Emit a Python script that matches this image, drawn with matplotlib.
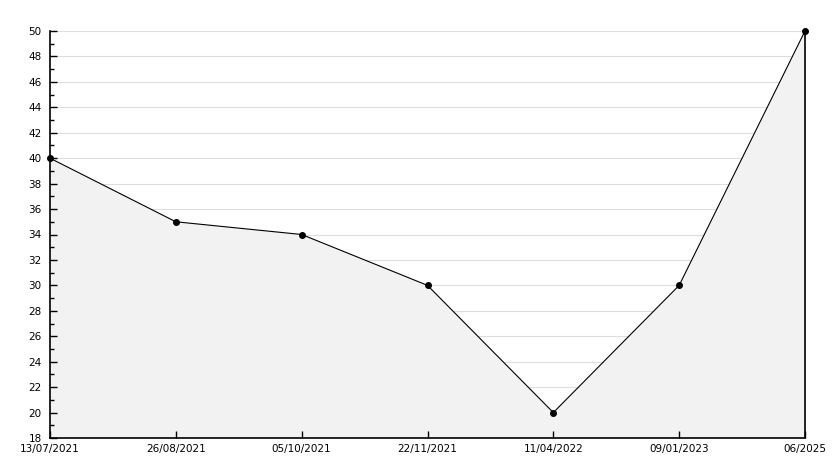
import numpy as np
import matplotlib.pyplot as plt

labels = ["13/07/2021", "26/08/2021", "05/10/2021", "22/11/2021",
          "11/04/2022", "09/01/2023", "06/2025"]
values = [40, 35, 34, 30, 20, 30, 50]

fig = plt.figure(figsize=(8.34, 4.68), dpi=100)
ax = fig.add_axes([50 / 834, 30 / 468, 755 / 834, 407 / 468])

x = np.arange(len(values))
ymin, ymax = 18, 50
yticks = np.arange(ymin, ymax + 1, 2)

# grid drawn under the fill, ticks stay on top
ax.hlines(yticks[1:], x[0], x[-1], color="#dddddd", lw=0.8, zorder=1)
ax.fill_between(x, values, ymin, color="#f2f2f2", zorder=2, linewidth=0)
ax.plot(x, values, color="black", lw=0.8, zorder=3)
ax.plot(x, values, ls="none", marker="o", ms=4, color="black", zorder=6,
        clip_on=False)
# right edge of the filled area
ax.vlines(x[-1], ymin, values[-1], color="black", lw=1.2, zorder=3,
          clip_on=False)

ax.set_xlim(x[0], x[-1])
ax.set_ylim(ymin, ymax)
ax.set_xticks(x)
ax.set_xticklabels(labels)
ax.set_yticks(yticks)
ax.set_yticks(np.arange(ymin, ymax + 1, 1), minor=True)
ax.set_axisbelow(False)

for s in ("top", "right"):
    ax.spines[s].set_visible(False)
for s in ("left", "bottom"):
    ax.spines[s].set_linewidth(1.2)
    ax.spines[s].set_zorder(5)

ax.tick_params(axis="both", which="major", direction="in", length=5,
               width=1, labelsize=7.5, colors="black")
ax.tick_params(axis="y", which="minor", direction="in", length=3, width=1)
ax.tick_params(axis="x", pad=4)
ax.tick_params(axis="y", pad=6)

fig.savefig("out.png", dpi=100)
